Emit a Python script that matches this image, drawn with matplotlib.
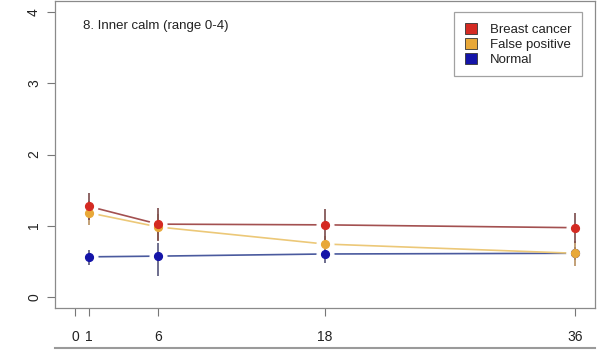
import matplotlib
matplotlib.use("Agg")
import matplotlib.pyplot as plt
from matplotlib.lines import Line2D
from matplotlib.patches import Patch

plt.rcParams["font.family"] = ["Liberation Sans", "DejaVu Sans"]

months = [1, 6, 18, 36]
groups = ["Breast cancer", "False positive", "Normal"]

cancer_mean = [1.27, 1.02, 1.01, 0.97]
cancer_lo = [1.08, 0.78, 0.80, 0.76]
cancer_hi = [1.46, 1.25, 1.23, 1.18]

falsepos_mean = [1.18, 0.98, 0.74, 0.61]
falsepos_lo = [1.01, 0.80, 0.62, 0.43]
falsepos_hi = [1.35, 1.16, 0.86, 0.78]

normal_mean = [0.56, 0.57, 0.60, 0.61]
normal_lo = [0.45, 0.29, 0.47, 0.52]
normal_hi = [0.66, 0.75, 0.70, 0.70]

x_ticks = [0, 1, 6, 18, 36]
y_ticks = [0, 1, 2, 3, 4]
title = "8. Inner calm (range 0-4)"

series = [
    (cancer_mean, cancer_lo, cancer_hi, "#d42a22", "#a35050", "#7a4a4a"),
    (falsepos_mean, falsepos_lo, falsepos_hi, "#e8a838", "#ecc878", "#b89060"),
    (normal_mean, normal_lo, normal_hi, "#1414a8", "#4a5a9e", "#55557a"),
]
# normal drawn first, breast cancer last (on top)
draw_order = series[::-1]

fig = plt.figure(figsize=(6.01, 3.5), dpi=100)
ax = fig.add_axes([55 / 601, 1 - 308 / 350, 540 / 601, 307 / 350])

# connecting lines
for mean, lo, hi, pc, lc, ec in draw_order:
    ax.plot(months, mean, color=lc, lw=1.2, zorder=2)
# white halos leave a gap around every point
for mean, lo, hi, pc, lc, ec in draw_order:
    ax.plot(months, mean, ls="none", marker="o", ms=12, mfc="white",
            mec="white", zorder=3)
# interval bars
for mean, lo, hi, pc, lc, ec in draw_order:
    ax.vlines(months, lo, hi, color=ec, lw=1.2, zorder=4)
# group means
for i, (mean, lo, hi, pc, lc, ec) in enumerate(draw_order):
    ax.plot(months, mean, ls="none", marker="o", ms=5.6, mfc=pc, mec=pc,
            zorder=5 + i)

ax.set_xlim(-1.44, 37.44)
ax.set_ylim(-0.16, 4.16)
ax.set_xticks(x_ticks)
ax.set_yticks(y_ticks)
ax.set_yticklabels([str(v) for v in y_ticks], rotation=90, va="center")
ax.tick_params(axis="both", colors="#777777", labelcolor="#222222",
               labelsize=10, length=6, width=0.8)
ax.tick_params(axis="x", pad=10)
ax.tick_params(axis="y", pad=4)
for s in ax.spines.values():
    s.set_color("#8a8a8a")
    s.set_linewidth(0.9)

ax.text(0.052, 0.918, title, transform=ax.transAxes, fontsize=9.5,
        color="#222222", va="center", ha="left")

handles = [Patch(facecolor=c[3], edgecolor="#333333", linewidth=0.6)
           for c in series]
leg = ax.legend(handles, groups, loc="upper right",
                bbox_to_anchor=(0.976, 0.964), borderaxespad=0,
                fancybox=False, fontsize=9.5, handlelength=0.9,
                handleheight=0.9, handletextpad=1.0, labelspacing=0.15,
                borderpad=0.8)
leg.get_frame().set_edgecolor("#8a8a8a")
leg.get_frame().set_linewidth(0.9)
for t in leg.get_texts():
    t.set_color("#222222")

# top edge of the panel below
fig.add_artist(Line2D([55 / 601, 595 / 601], [1 - 347.5 / 350] * 2,
                      transform=fig.transFigure, color="#9a9a9a", lw=1.5))

fig.savefig("out.png", dpi=100)
